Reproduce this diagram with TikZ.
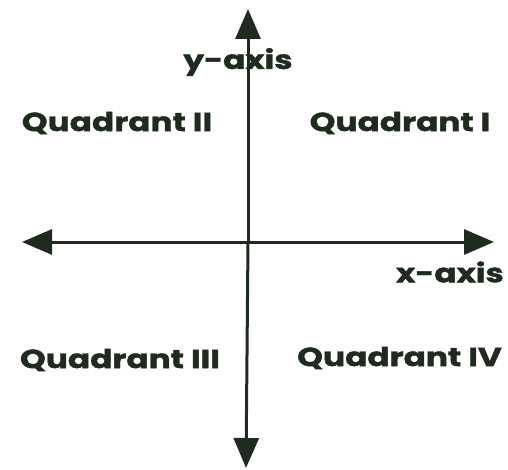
\documentclass[tikz,border=0pt]{standalone}
\usepackage{fontspec}
\setmainfont{Poppins}
\newfontfamily\heavyfont{Poppins}[BoldFeatures={FakeBold=1.5, FakeStretch=1.26}]
\usepackage{tikz}
\usetikzlibrary{arrows.meta}
\definecolor{ink}{HTML}{1F2B1F}
\tikzset{lbl/.style={text=ink, font=\heavyfont\fontsize{26}{28}\selectfont\bfseries, inner sep=0}}
\tikzset{axis/.style={ink, line width=3pt, -{Triangle[length=30pt,width=25pt]}}}

\begin{document}
\begin{tikzpicture}[x=1pt,y=-1pt]
\useasboundingbox (0,0) rectangle (508,470);
\coordinate (o) at (248,242);
\coordinate (xl) at (22,242);
\coordinate (xr) at (494,242);
\coordinate (yt) at (248,9);
\coordinate (yb) at (246,468);
\draw[axis] (o)--(xl);
\draw[axis] (o)--(xr);
\draw[axis] (o)--(yt);
\draw[axis] (o)--(yb);
\node[lbl] (ylab) at (238,62) {y-axis};
\node[lbl, anchor=east] (xlab) at (504,272) {x-axis};
\node[lbl] (q1) at (400,123) {Quadrant I};
\node[lbl] (q2) at (117,123) {Quadrant II};
\node[lbl] (q3) at (120,360) {Quadrant III};
\node[lbl, anchor=east] (q4) at (502,358) {Quadrant IV};
\end{tikzpicture}
\end{document}
